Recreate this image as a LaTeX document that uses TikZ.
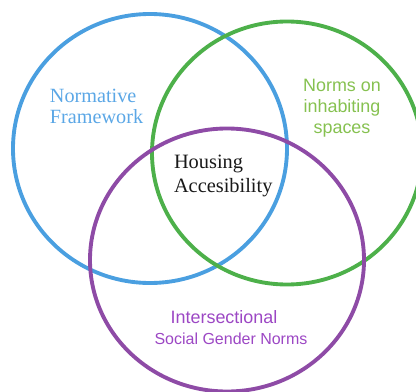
\documentclass[tikz,border=0pt]{standalone}
\usepackage{fontspec}
\setmainfont{Liberation Serif}
\setsansfont{Liberation Sans}
\definecolor{ringblue}{HTML}{4A9FE0}
\definecolor{ringgreen}{HTML}{4DB04A}
\definecolor{ringpurple}{HTML}{8E4BA6}
\definecolor{txtblue}{HTML}{5BA7E6}
\definecolor{txtgreen}{HTML}{86C150}
\definecolor{txtpurple}{HTML}{9C47C4}
\tikzset{
  ring/.style={line width=2.2pt},
  lbl/.style={inner sep=0pt, outer sep=0pt},
  seriflbl/.style={lbl, font=\rmfamily\fontsize{11.5}{13}\selectfont},
  sanslbl/.style={lbl, font=\sffamily\fontsize{10.2}{12}\selectfont},
}
\begin{document}
\begin{tikzpicture}[x=0.02cm, y=-0.02cm]
  \useasboundingbox (0,0) rectangle (416,392);
  \begin{scope}
    \clip (0,0) rectangle (416,392);
    % the three sets
    \draw[ring, ringblue]   (150,148.5) ellipse [x radius=137, y radius=134.5];
    \draw[ring, ringgreen]  (287,153)   ellipse [x radius=135, y radius=131.5];
    \draw[ring, ringpurple] (227,260)   ellipse [x radius=137, y radius=131.5];
  \end{scope}

  % set labels
  \node[seriflbl, anchor=base west, text=txtblue] (nf1) at (50,102) {Normative};
  \node[seriflbl, anchor=base west, text=txtblue] (nf2) at (50,123) {Framework};

  \node[sanslbl, anchor=base, text=txtgreen] (ns1) at (342,91) {Norms on};
  \node[sanslbl, anchor=base, text=txtgreen] (ns2) at (342,112.5) {inhabiting};
  \node[sanslbl, anchor=base, text=txtgreen] (ns3) at (342,133) {spaces};

  \node[sanslbl, anchor=base, text=txtpurple] (sg1) at (224,323) {Intersectional};
  \node[sanslbl, anchor=base, text=txtpurple, font=\sffamily\fontsize{9.1}{11}\selectfont]
    (sg2) at (231,344) {Social Gender Norms};

  % centre of the diagram
  \node[seriflbl, anchor=base west, text=black!90, font=\rmfamily\fontsize{11.6}{13}\selectfont]
    (ha1) at (174,168) {Housing};
  \node[seriflbl, anchor=base west, text=black!90, font=\rmfamily\fontsize{11.6}{13}\selectfont]
    (ha2) at (174,192) {Accesibility};
\end{tikzpicture}
\end{document}
